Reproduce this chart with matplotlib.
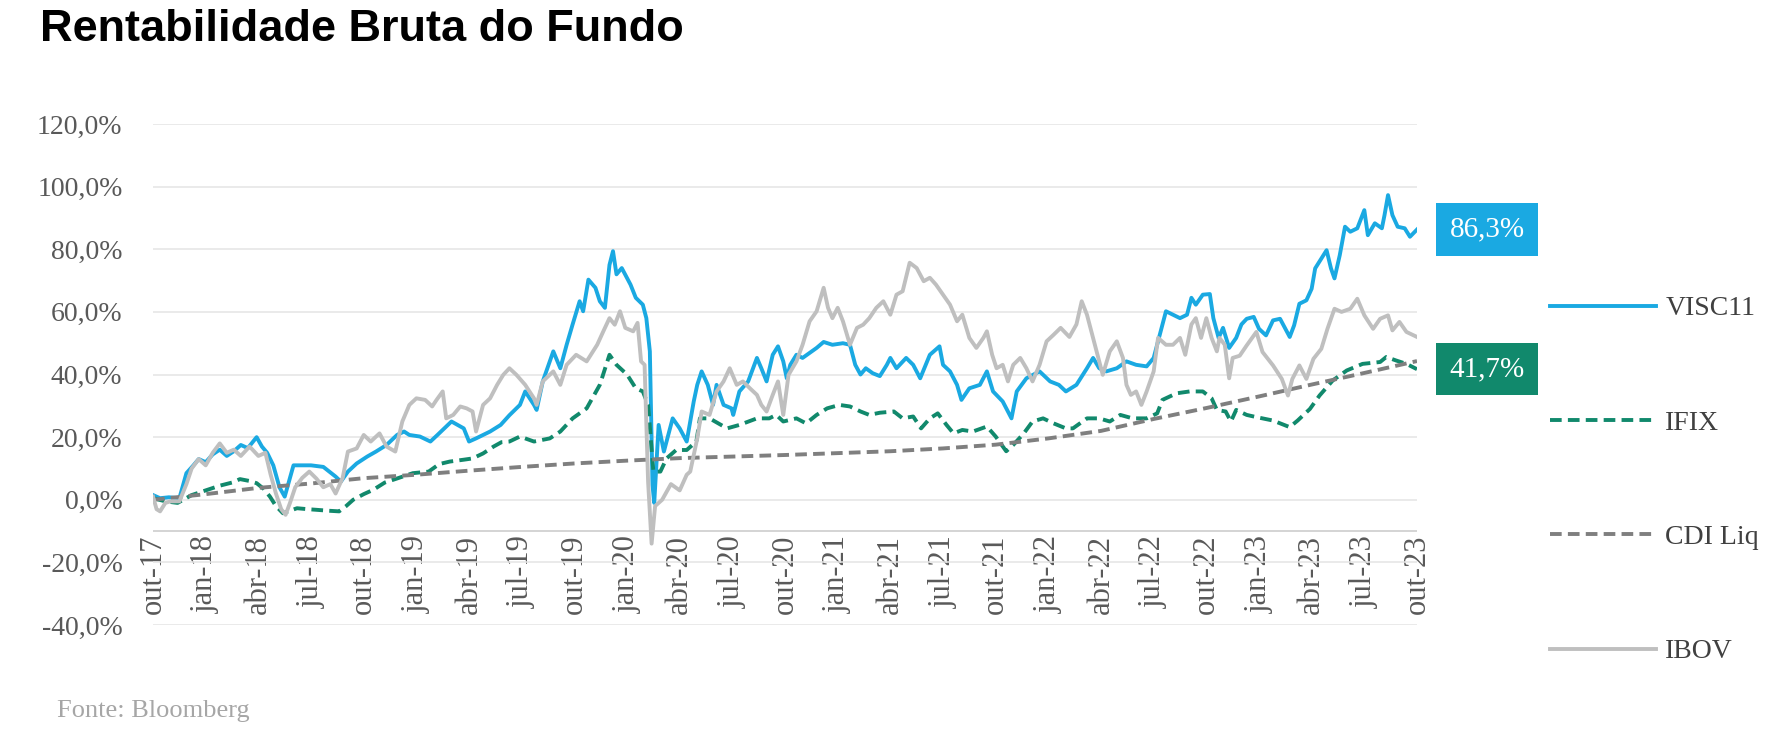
import matplotlib.pyplot as plt
import numpy as np
import pandas as pd
from matplotlib.lines import Line2D
from matplotlib.ticker import FuncFormatter

# eixo x: meses desde out-17 ; eixo y: rentabilidade acumulada (%)
visc_mes = [0, 0.4, 0.9, 1.5, 1.9, 2.3, 2.6, 3.0, 3.4, 3.8, 4.2, 4.6, 5.0, 5.4, 5.9, 6.2, 6.5, 6.85,
            7.2, 7.5, 7.8, 8.0, 8.5, 9.0, 9.7, 10.4, 10.7, 11.1, 11.6, 12.2, 12.7, 13.3, 13.9, 14.3,
            14.6, 15.2, 15.8, 16.2, 17.0, 17.7, 18.0, 18.4, 19.2, 19.8, 20.3, 20.9, 21.2, 21.7, 21.85,
            22.2, 22.8, 23.2, 23.56, 23.9, 24.3, 24.5, 24.8, 25.2, 25.45, 25.74, 26.0, 26.2, 26.4,
            26.7, 27.2, 27.5, 27.9, 28.1, 28.3, 28.45, 28.55, 28.8, 29.1, 29.6, 30.0, 30.4, 30.8,
            31.0, 31.25, 31.6, 31.9, 32.1, 32.5, 32.95, 33.05, 33.4, 33.9, 34.4, 34.65, 34.95, 35.3,
            35.6, 35.9, 36.1, 36.3, 36.65, 37.0, 37.4, 37.8, 38.2, 38.7, 39.3, 39.7, 40.0, 40.3,
            40.6, 41.0, 41.4, 41.8, 42.0, 42.35, 42.9, 43.3, 43.7, 44.25, 44.8, 45.0, 45.4, 45.8,
            46.05, 46.5, 47.1, 47.5, 47.85, 48.4, 48.9, 49.2, 49.75, 50.5, 51.1, 51.6, 52.0, 52.6,
            53.2, 53.55, 53.9, 54.3, 54.9, 55.45, 56.0, 56.6, 57.0, 57.35, 57.7, 58.1, 58.5, 58.9,
            59.15, 59.4, 59.8, 60.2, 60.4, 60.7, 60.95, 61.3, 61.7, 62.0, 62.3, 62.7, 63.0, 63.4,
            63.8, 64.2, 64.75, 65.0, 65.3, 65.7, 66.0, 66.2, 66.55, 66.85, 67.1, 67.3, 67.6, 67.9,
            68.2, 68.6, 69.0, 69.2, 69.6, 70.0, 70.15, 70.35, 70.6, 70.9, 71.3, 71.6, 72.0]
visc_ret = [1.5, 0.5, 0.8, 0.5, 8.5, 11, 13, 12, 14.5, 16, 14, 15.5, 17.5, 16.5, 20, 17, 15, 11,
            4, 1, 7, 11, 11, 11, 10.5, 7.4, 5.8, 9, 11.6, 13.8, 15.4, 17.5, 20.7, 21.8,
            20.7, 20.2, 18.6, 20.7, 25, 22.8, 18.6, 19.6, 21.8, 23.9, 27, 30.3, 34.6, 30.3, 28.7,
            37.8, 47.4, 42, 49.5, 56, 63.4, 60.2, 70.3, 67.7, 63.4, 61.3, 75, 79.4, 72,
            74, 68.7, 64.5, 62.3, 58, 47.4, 4.7, -1, 23.9, 15.4, 26, 22.8, 18.6, 31.4,
            36.7, 41, 36.7, 30.3, 36.7, 30.3, 29.2, 27.1, 34.6, 37.8, 45.3, 42, 37.8, 46.3,
            49, 44.2, 38.8, 43.1, 46.3, 45.3, 46.9, 48.5, 50.4, 49.5, 50, 49.5, 43.1, 40,
            42, 40.4, 39.5, 43.1, 45.3, 42, 45.3, 43.1, 38.8, 46.3, 49, 43.1, 41, 36.7,
            31.9, 35.6, 36.7, 41, 34.6, 31.4, 26, 34.6, 38.8, 41, 37.8, 36.7, 34.6, 36.7,
            42, 45.3, 42, 41, 42, 44.2, 43.1, 42.6, 45.3, 52.7, 60.2, 59.1, 58, 59.1,
            64.5, 62.3, 65.5, 65.7, 58, 51.7, 54.9, 48.5, 51.7, 56, 57.8, 58.4, 54.6, 52.5,
            57.3, 57.8, 52, 55.7, 62.6, 63.7, 67.4, 73.9, 77, 79.7, 73.9, 70.7, 78.1, 87.2,
            85.6, 86.7, 92.5, 84.5, 88.3, 86.7, 90.9, 97.3, 90.9, 87.2, 86.7, 84, 86.3]

ifix_mes = [0, 0.7, 1.4, 2.2, 3.0, 3.8, 4.5, 4.95, 5.5, 5.9, 6.3, 6.66, 7.0, 7.4, 7.8, 8.2, 8.8,
            9.3, 10.0, 10.6, 11.0, 11.4, 12.0, 12.55, 13.2, 13.9, 14.8, 15.7, 16.3, 16.9, 17.7,
            18.2, 18.8, 19.4, 19.85, 20.3, 20.9, 21.7, 22.6, 23.2, 23.9, 24.7, 25.45, 26.0, 26.4,
            27.0, 27.5, 27.9, 28.2, 28.5, 28.9, 29.25, 29.8, 30.4, 30.95, 31.15, 31.7, 32.7, 33.4,
            34.4, 35.1, 35.5, 35.9, 36.65, 37.2, 37.8, 38.4, 39.1, 39.7, 40.3, 40.8, 41.4, 42.2,
            42.7, 43.3, 43.75, 44.25, 44.7, 45.2, 45.6, 46.1, 46.7, 47.5, 48.0, 48.6, 49.0, 49.6,
            50.1, 50.7, 51.3, 52.0, 52.4, 53.2, 53.9, 54.5, 55.1, 55.8, 56.6, 57.2, 57.5, 58.3,
            59.05, 59.8, 60.3, 60.6, 61.1, 61.4, 61.7, 62.3, 62.85, 63.8, 64.75, 65.2, 65.9,
            66.45, 67.2, 68.0, 68.9, 69.9, 70.25, 70.8, 71.4, 72.0]
ifix_ret = [0.5, -0.5, -1, 1.5, 3, 4.5, 5.5, 6.6, 6, 5.3, 3.5, 1, -2, -4.3, -3.5, -2.7, -3,
            -3.2, -3.5, -3.7, -2, 0, 1.8, 3.2, 5.5, 6.8, 8.5, 9, 11.4, 12.2, 12.8,
            13.2, 14.8, 17, 18.4, 18.6, 20.2, 18.6, 19.6, 21.8, 26, 29.2, 36.7, 46.3, 43.1,
            40, 35.6, 34.6, 30.3, 9, 9, 13.2, 15.9, 15.9, 18.6, 26, 26, 22.8, 23.9,
            26, 26, 27.1, 25, 26, 24.4, 27.1, 29.2, 30.3, 29.8, 28.2, 27.1, 27.8, 28.2,
            26, 26.6, 22.8, 26, 27.6, 23.9, 21.2, 22.3, 21.8, 23.4, 20.2, 15.5, 17.5, 21.2,
            25, 26, 24.4, 22.8, 22.8, 26, 26, 25, 27.1, 26, 26, 27.6, 31.9, 34,
            34.6, 34.6, 32.4, 28.7, 28.2, 25, 28.7, 27.1, 26.4, 25.3, 23.2, 25.3, 29,
            33.3, 38.1, 41.3, 43.4, 44, 45.6, 44.5, 43.4, 41.7]

cdi_mes = [0, 3, 6, 9, 12, 15, 18, 21, 24, 27, 30, 33, 36, 39, 42, 45, 48, 51, 54, 57, 60,
           63, 66, 69, 72]
cdi_ret = [0, 1.8, 3.8, 5.2, 6.9, 8.0, 9.3, 10.5, 11.6, 12.5, 13.3, 13.8, 14.3, 14.9, 15.5,
           16.4, 17.6, 19.6, 22.0, 25.8, 29.3, 33.0, 36.8, 40.5, 44.3]

ibov_mes = [0, 0.2, 0.4, 0.7, 1.0, 1.5, 1.9, 2.2, 2.6, 3.0, 3.4, 3.8, 4.2, 4.6, 5.0, 5.5, 6.0,
            6.4, 6.7, 7.0, 7.3, 7.55, 7.8, 8.1, 8.5, 8.9, 9.3, 9.7, 10.1, 10.4, 10.8, 11.1, 11.6,
            12.0, 12.4, 12.9, 13.3, 13.8, 14.2, 14.6, 15.0, 15.5, 15.9, 16.15, 16.5, 16.7, 17.1,
            17.5, 17.86, 18.2, 18.4, 18.8, 19.2, 19.6, 19.95, 20.3, 20.7, 21.2, 21.7, 21.85, 22.2,
            22.8, 23.2, 23.56, 24.1, 24.7, 25.3, 25.65, 26.0, 26.3, 26.6, 26.9, 27.35, 27.6, 27.8,
            28.0, 28.2, 28.4, 28.6, 29.0, 29.5, 30.0, 30.4, 30.6, 31.0, 31.25, 31.7, 32.1, 32.5,
            32.85, 33.25, 33.6, 34.0, 34.4, 34.65, 34.95, 35.3, 35.6, 35.9, 36.2, 36.65, 37.0,
            37.4, 37.8, 38.2, 38.45, 38.7, 39.0, 39.3, 39.7, 40.1, 40.45, 40.8, 41.2, 41.6, 42.0,
            42.35, 42.7, 43.1, 43.5, 43.9, 44.25, 44.6, 45.0, 45.4, 45.8, 46.1, 46.5, 46.9, 47.3,
            47.5, 47.8, 48.05, 48.4, 48.7, 49.0, 49.4, 49.75, 50.1, 50.5, 50.9, 51.3, 51.7, 52.2,
            52.6, 52.9, 53.2, 53.55, 53.8, 54.1, 54.5, 54.9, 55.25, 55.45, 55.7, 56.0, 56.3, 56.6,
            57.0, 57.25, 57.7, 58.1, 58.5, 58.8, 59.15, 59.4, 59.7, 60.0, 60.3, 60.6, 60.75, 61.05,
            61.3, 61.5, 61.9, 62.3, 62.85, 63.2, 63.8, 64.3, 64.65, 64.9, 65.3, 65.7, 66.1, 66.55,
            66.9, 67.3, 67.7, 68.2, 68.6, 69.0, 69.5, 69.9, 70.35, 70.6, 71.0, 71.4, 72.0]
ibov_ret = [1, -3, -3.7, -1, -0.5, -0.5, 5, 10, 13, 11, 15, 18, 15, 16, 14, 17, 14,
            15, 8, 2, -3, -4.8, -1, 4, 7, 9, 6.8, 4, 5, 2, 7, 15.4, 16.4,
            20.7, 18.6, 21.2, 17, 15.4, 25, 30.3, 32.4, 31.9, 29.8, 31.9, 34.6, 26, 27.1,
            29.8, 29.2, 28.2, 21.8, 30.3, 32.4, 36.7, 39.9, 42, 39.9, 36.7, 32.4, 30.3, 37.8,
            41, 36.7, 43.1, 46.3, 44.2, 49.5, 53.8, 58, 55.9, 60.2, 54.9, 53.8, 56.5, 44.2,
            43.1, 5.8, -14, -2, 0, 5, 3, 8, 9, 19.6, 28.2, 27.1, 34.6, 37.8,
            42, 36.7, 37.8, 35.6, 33.5, 30.3, 28.2, 33.5, 37.8, 27.1, 39.9, 44.2, 49.5,
            57, 60.2, 67.7, 61.3, 58, 61.3, 57, 49.5, 54.9, 55.9, 58, 61.3, 63.4, 59.1,
            65.5, 66.6, 75.7, 74, 69.8, 70.9, 68.7, 65.5, 62.3, 57, 59.1, 51.7, 48.5, 51.7,
            53.8, 46.3, 42, 43.1, 37.8, 43.1, 45.3, 42, 37.8, 43.1, 50.6, 52.7, 54.9, 52,
            56, 63.4, 59.1, 51.7, 46.3, 39.9, 47.4, 50.6, 45.3, 36.7, 33.5, 34.6, 30.3, 34.6,
            41, 51.7, 49.5, 49.5, 51.7, 46.3, 56, 58, 51.7, 58, 51.7, 47.4, 51.7, 49.5,
            38.8, 45.3, 46, 49.3, 53.6, 47.2, 42.9, 38.6, 33.3, 38.6, 42.9, 38.6, 45, 48.2,
            54.6, 61, 60, 61, 64.2, 58.9, 54.6, 57.8, 58.9, 54.1, 56.8, 53.6, 52]

# valores finais destacados
visc_final = 86.3
ifix_final = 41.7

cor_visc = '#1aa9e2'
cor_ifix = '#11896c'
cor_cdi = '#7f7f7f'
cor_ibov = '#bfbfbf'
cor_texto = '#595959'
tracejado = (0, (3, 1.6))
espessura = 2.8

plt.rcParams['font.family'] = ['Liberation Serif', 'DejaVu Serif']

fig = plt.figure(figsize=(17.88, 7.33), dpi=100)
ax = fig.add_axes([0.0856, 0.1473, 0.7069, 0.6835])

ax.plot(visc_mes, visc_ret, color=cor_visc, lw=espessura, zorder=3)
ax.plot(ifix_mes, ifix_ret, color=cor_ifix, lw=espessura, ls=tracejado, zorder=4)
ax.plot(cdi_mes, cdi_ret, color=cor_cdi, lw=espessura, ls=tracejado, zorder=4)
ax.plot(ibov_mes, ibov_ret, color=cor_ibov, lw=espessura, zorder=5)

# eixos
ax.set_xlim(0, 72)
ax.set_ylim(-40, 120)
ax.set_yticks(np.arange(-40, 121, 20))
ax.yaxis.set_major_formatter(FuncFormatter(lambda v, _: f'{v:.1f}%'.replace('.', ',')))
ax.grid(axis='y', color='#e4e4e4', lw=1.1, zorder=0)
ax.axhline(-10, color='#d4d4d4', lw=1.4, zorder=1)
for s in ax.spines.values():
    s.set_visible(False)

trimestres = pd.date_range('2017-10-01', '2023-10-01', freq='QS-OCT')
nomes_mes = {1: 'jan', 4: 'abr', 7: 'jul', 10: 'out'}
rotulos_x = [f'{nomes_mes[d.month]}-{d.strftime("%y")}' for d in trimestres]
ax.set_xticks(np.arange(0, 73, 3))
ax.set_xticklabels(rotulos_x, rotation=90)
ax.tick_params(axis='x', length=0, pad=-65, labelsize=22, labelcolor=cor_texto)
ax.tick_params(axis='y', length=0, pad=22, labelsize=20, labelcolor=cor_texto)

# caixas com o valor final
for valor, cor in [(visc_final, cor_visc), (ifix_final, cor_ifix)]:
    ax.text(1.0554, valor, f'{valor:.1f}%'.replace('.', ','), transform=ax.get_yaxis_transform(),
            ha='center', va='center', color='white', fontsize=21,
            bbox=dict(boxstyle='square,pad=0.45', fc=cor, ec='none'))

# legenda
handles = [Line2D([], [], color=cor_visc, lw=espessura),
           Line2D([], [], color=cor_ifix, lw=espessura, ls=tracejado),
           Line2D([], [], color=cor_cdi, lw=espessura, ls=tracejado),
           Line2D([], [], color=cor_ibov, lw=espessura)]
fig.legend(handles, ['VISC11', 'IFIX', 'CDI Liq', 'IBOV'], loc='upper left',
           bbox_to_anchor=(1550 / 1788, 1 - 296 / 733), frameon=False, fontsize=20,
           handlelength=3.8, handletextpad=0.35, labelspacing=3.2, borderpad=0,
           borderaxespad=0, labelcolor='#404040')

fig.text(40 / 1788, 0.988, 'Rentabilidade Bruta do Fundo', family='Liberation Sans',
         weight='bold', fontsize=32.5, va='top')
fig.text(57 / 1788, 1 - 711 / 733, 'Fonte: Bloomberg', fontsize=19, color='#a6a6a6', va='center')

fig.savefig('out.png', dpi=100)
